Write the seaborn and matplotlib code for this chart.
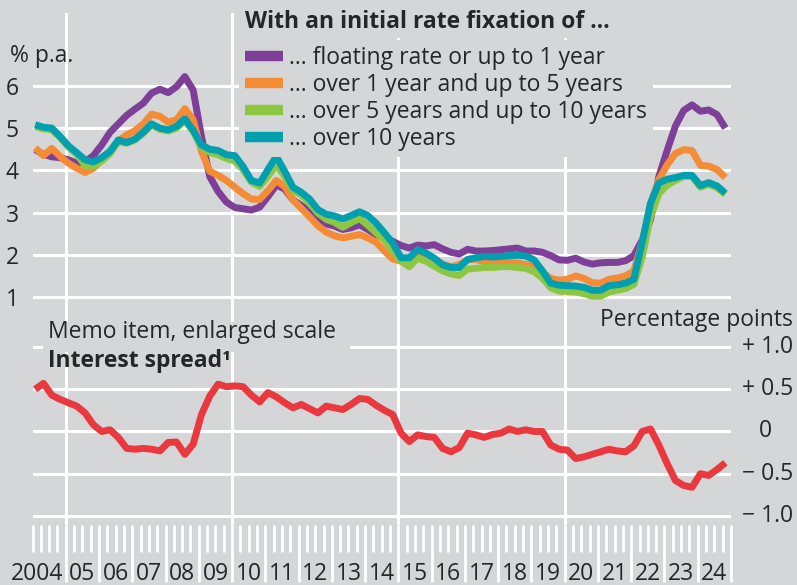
import numpy as np
import pandas as pd
import matplotlib
matplotlib.use("Agg")
import matplotlib.pyplot as plt
from matplotlib.lines import Line2D
from matplotlib.patches import Rectangle
import seaborn as sns

# ---------------- data (quarterly) ----------------
quarters = pd.period_range("2004Q1", "2024Q4", freq="Q")

floating = [4.49, 4.38, 4.32, 4.30, 4.25, 4.17, 4.20, 4.35, 4.60, 4.90, 5.10, 5.30,
            5.45, 5.59, 5.83, 5.92, 5.84, 5.98, 6.22, 5.90, 4.80, 3.85, 3.50, 3.25,
            3.12, 3.09, 3.06, 3.13, 3.38, 3.65, 3.56, 3.30, 3.17, 3.02, 2.85, 2.73,
            2.68, 2.60, 2.64, 2.71, 2.60, 2.48, 2.40, 2.32, 2.22, 2.16, 2.23, 2.21,
            2.24, 2.14, 2.06, 2.02, 2.13, 2.09, 2.09, 2.10, 2.12, 2.14, 2.16, 2.09,
            2.09, 2.06, 1.98, 1.88, 1.87, 1.92, 1.83, 1.78, 1.81, 1.82, 1.82, 1.86,
            1.98, 2.35, 2.83, 3.85, 4.47, 5.05, 5.42, 5.55, 5.40, 5.43, 5.32, 5.00]

over_1_to_5 = [4.53, 4.35, 4.52, 4.33, 4.17, 4.05, 3.95, 4.05, 4.25, 4.45, 4.69, 4.84,
               4.94, 5.10, 5.33, 5.28, 5.14, 5.20, 5.46, 5.20, 4.45, 3.98, 3.88, 3.76,
               3.60, 3.45, 3.32, 3.31, 3.52, 3.76, 3.62, 3.30, 3.10, 2.90, 2.69, 2.54,
               2.45, 2.40, 2.44, 2.48, 2.40, 2.30, 2.09, 1.90, 1.85, 1.89, 2.06, 2.00,
               1.91, 1.78, 1.72, 1.77, 1.88, 1.89, 1.84, 1.81, 1.82, 1.82, 1.81, 1.77,
               1.72, 1.58, 1.44, 1.40, 1.42, 1.50, 1.44, 1.34, 1.33, 1.42, 1.45, 1.50,
               1.62, 2.30, 3.20, 3.78, 4.13, 4.40, 4.49, 4.47, 4.12, 4.10, 4.02, 3.83]

over_5_to_10 = [5.04, 4.98, 4.96, 4.78, 4.55, 4.38, 4.12, 4.10, 4.22, 4.40, 4.68, 4.64,
                4.72, 4.88, 5.08, 4.97, 4.93, 5.00, 5.18, 4.92, 4.55, 4.42, 4.37, 4.28,
                4.22, 4.02, 3.72, 3.62, 3.86, 4.13, 3.86, 3.52, 3.42, 3.22, 2.99, 2.84,
                2.77, 2.65, 2.76, 2.86, 2.70, 2.52, 2.36, 2.09, 1.85, 1.72, 1.92, 1.85,
                1.73, 1.62, 1.55, 1.51, 1.66, 1.68, 1.70, 1.70, 1.72, 1.72, 1.70, 1.68,
                1.60, 1.45, 1.22, 1.14, 1.13, 1.12, 1.08, 1.02, 1.02, 1.12, 1.16, 1.20,
                1.30, 1.95, 2.90, 3.45, 3.65, 3.76, 3.86, 3.85, 3.60, 3.67, 3.59, 3.43]

over_10 = [5.08, 5.02, 5.00, 4.80, 4.58, 4.42, 4.25, 4.20, 4.30, 4.45, 4.72, 4.66,
           4.74, 4.90, 5.10, 5.00, 4.96, 5.04, 5.22, 4.95, 4.60, 4.50, 4.47, 4.37,
           4.35, 4.09, 3.76, 3.70, 4.02, 4.33, 3.98, 3.60, 3.48, 3.32, 3.07, 2.96,
           2.92, 2.85, 2.93, 3.02, 2.93, 2.75, 2.52, 2.28, 1.93, 1.93, 2.12, 2.04,
           1.92, 1.76, 1.70, 1.70, 1.89, 1.93, 1.96, 1.95, 1.96, 1.98, 1.99, 1.97,
           1.88, 1.62, 1.33, 1.28, 1.27, 1.26, 1.23, 1.16, 1.16, 1.27, 1.29, 1.33,
           1.42, 2.30, 3.22, 3.70, 3.79, 3.83, 3.88, 3.88, 3.64, 3.71, 3.63, 3.46]

interest_spread = [0.50, 0.57, 0.43, 0.38, 0.34, 0.30, 0.22, 0.08, 0.00, 0.02, -0.07, -0.20,
                   -0.21, -0.20, -0.21, -0.23, -0.13, -0.125, -0.27, -0.15, 0.20, 0.42, 0.56, 0.53,
                   0.54, 0.53, 0.43, 0.35, 0.46, 0.41, 0.34, 0.28, 0.32, 0.27, 0.22, 0.30,
                   0.28, 0.26, 0.32, 0.39, 0.38, 0.31, 0.25, 0.20, -0.02, -0.12, -0.04, -0.06,
                   -0.07, -0.20, -0.24, -0.19, -0.02, -0.04, -0.07, -0.035, -0.02, 0.03, 0.00, 0.02,
                   0.00, 0.00, -0.16, -0.21, -0.22, -0.32, -0.30, -0.27, -0.24, -0.21, -0.23, -0.24,
                   -0.17, 0.00, 0.03, -0.16, -0.38, -0.58, -0.64, -0.66, -0.50, -0.52, -0.45, -0.37]

series_labels = ["\u2026 floating rate or up to 1 year",
                 "\u2026 over 1 year and up to 5 years",
                 "\u2026 over 5 years and up to 10 years",
                 "\u2026 over 10 years"]
series_colors = ["#7e3f98", "#f58b34", "#8dc640", "#00a0b0"]
spread_color = "#e9393f"

legend_title = "With an initial rate fixation of \u2026"
year_labels = ["2004"] + [f"{y % 100:02d}" for y in range(2005, 2025)]
rate_ticks = [1, 2, 3, 4, 5, 6]
spread_ticks = [1.0, 0.5, 0.0, -0.5, -1.0]
spread_tick_labels = ["+ 1.0", "+ 0.5", "0", "\u2212 0.5", "\u2212 1.0"]
grid_years = [2005, 2010, 2015, 2020]

# ---------------- style ----------------
BG = "#d5d6d8"
TXT = "#262626"
sns.set_theme(style="white", rc={"axes.facecolor": BG, "figure.facecolor": BG,
                                 "savefig.facecolor": BG})
plt.rcParams["font.family"] = ["Open Sans", "DejaVu Sans"]
FS = 16.5

# fractional-year position of each quarterly observation
x_year = np.asarray(quarters.year + (quarters.quarter - 1) * 0.25 + 0.08, dtype=float)

rates = pd.DataFrame({
    "year": np.tile(x_year, 4),
    "rate": np.concatenate([floating, over_1_to_5, over_5_to_10, over_10]),
    "series": np.repeat(series_labels, len(x_year)),
})
spread_df = pd.DataFrame({"year": x_year, "spread": interest_spread})

W, H = 797, 585
fig = plt.figure(figsize=(W / 100, H / 100), dpi=100)
L, R = 32.5, 731.0
ax1 = fig.add_axes([L / W, 1 - 322 / H, (R - L) / W, (322 - 13) / H])
ax2 = fig.add_axes([L / W, 1 - 525 / H, (R - L) / W, (525 - 322) / H])

sns.lineplot(data=rates, x="year", y="rate", hue="series", hue_order=series_labels,
             palette=series_colors, linewidth=5.0, ax=ax1, legend=False,
             solid_joinstyle="round", solid_capstyle="butt")
sns.lineplot(data=spread_df, x="year", y="spread", color=spread_color, linewidth=5.0,
             ax=ax2, solid_joinstyle="round", solid_capstyle="butt")

x0, x1 = 2004.0, 2025.0
for ax in (ax1, ax2):
    ax.set_xlim(x0, x1)
    ax.set_facecolor(BG)
    for s in ax.spines.values():
        s.set_visible(False)
    ax.set_axisbelow(True)
    ax.set_xlabel("")
    ax.set_ylabel("")
    for gy in grid_years:
        ax.axvline(gy, color="white", lw=2.2, zorder=0.6)

# top panel
ax1.set_ylim(1 - (322 - 297) / 42.3, 6 + (86 - 13) / 42.3)
ax1.set_yticks(rate_ticks)
ax1.set_yticklabels([str(t) for t in rate_ticks])
ax1.grid(axis="y", color="white", lw=2.2)
ax1.grid(axis="x", visible=False)
ax1.tick_params(axis="y", left=False, length=0, pad=10, labelsize=FS, labelcolor=TXT)
ax1.tick_params(axis="x", bottom=False, length=0, labelbottom=False)

# bottom panel
ax2.set_ylim(-1.0 - (525 - 516) / 84.6, 1.0 + (347 - 322) / 84.6)
ax2.set_yticks(spread_ticks)
ax2.grid(axis="y", color="white", lw=2.2)
ax2.grid(axis="x", visible=False)
ax2.tick_params(axis="y", left=False, right=False, length=0,
                labelleft=False, labelright=False)
ax2.set_xticks(list(range(2005, 2026)))
ax2.set_xticks(list(np.arange(2004.0, 2025.0, 0.25)), minor=True)
ax2.tick_params(axis="x", which="major", bottom=True, direction="out", length=41,
                width=2.0, color="white", labelbottom=False)
ax2.tick_params(axis="x", which="minor", bottom=True, direction="out", length=19.5,
                width=2.0, color="white", labelbottom=False)

ytrans = ax2.get_yaxis_transform()
for val, lab in zip(spread_ticks, spread_tick_labels):
    xr = 1 + (772 - R) / (R - L) if lab == "0" else 1 + (793 - R) / (R - L)
    ax2.text(xr, val, lab, transform=ytrans, ha="right", va="center",
             fontsize=FS, color=TXT)

xtrans = ax2.get_xaxis_transform()
ylab = -(574 - 525) / (525 - 322)
for i, lab in enumerate(year_labels):
    yr = 2004 + i
    if i == 0:
        ax2.text(yr + 0.93, ylab, lab, transform=xtrans, ha="right", va="center",
                 fontsize=FS, color=TXT)
    else:
        ax2.text(yr + 0.5, ylab, lab, transform=xtrans, ha="center", va="center",
                 fontsize=FS, color=TXT)

# patch hiding the +1.0 grid line behind the memo caption
ax2.add_patch(Rectangle(((43 - L) / (R - L), (525 - 352) / 203), (350 - 43) / (R - L),
                        (352 - 322) / 203, transform=ax2.transAxes, facecolor=BG,
                        edgecolor="none", zorder=1))

# legend (title drawn separately so its gap can match)
handles = [Line2D([], [], color=c, lw=7.5, solid_capstyle="butt") for c in series_colors]
leg = ax1.legend(handles, series_labels, loc="upper left",
                 bbox_to_anchor=(239 / W, 1 - 40 / H), bbox_transform=fig.transFigure,
                 frameon=True, facecolor=BG, edgecolor="none", framealpha=1,
                 fontsize=FS, handlelength=1.65, handletextpad=0.3, labelspacing=0.14,
                 borderpad=0.25, borderaxespad=0)
for t in leg.get_texts():
    t.set_color(TXT)
leg.set_zorder(5)

# captions
def ftext(px, py, s, **kw):
    return fig.text(px / W, 1 - py / H, s, fontsize=FS, color=TXT, va="center", **kw)

ftext(245, 22, legend_title, ha="left", fontweight="bold",
      bbox=dict(facecolor=BG, edgecolor="none", pad=3))
ftext(10, 56, "% p.a.", ha="left")
ftext(48, 332, "Memo item, enlarged scale", ha="left")
ftext(48, 361, "Interest spread\u00b9", ha="left", fontweight="bold")
ftext(793, 320, "Percentage points", ha="right")

fig.savefig("out.png", dpi=100, facecolor=BG)
